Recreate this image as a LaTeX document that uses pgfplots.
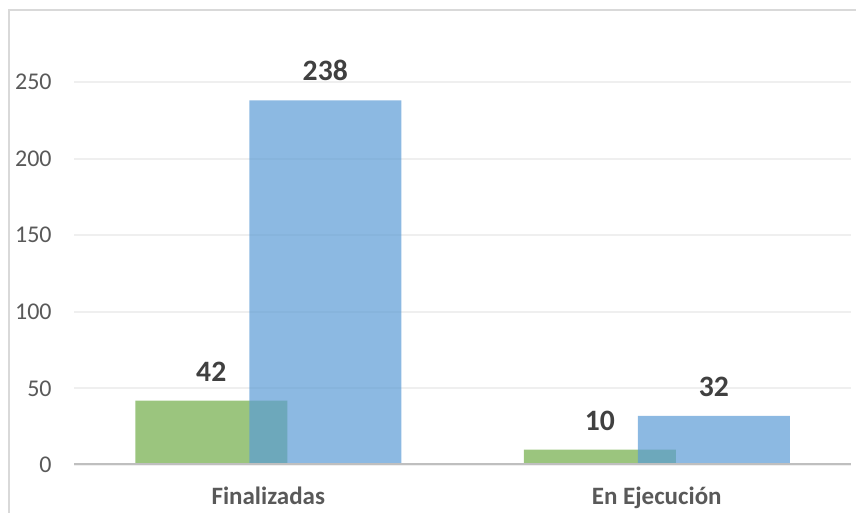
\documentclass[border=0pt]{standalone}
\usepackage{pgfplots}
\pgfplotsset{compat=1.18}
\usepackage{fontspec}
\setmainfont{Carlito}
\definecolor{barGreen}{HTML}{70AD47}
\definecolor{barBlue}{HTML}{5B9BD5}
\definecolor{tickGray}{HTML}{595959}
\definecolor{labelGray}{HTML}{404040}
\definecolor{gridGray}{HTML}{EFEFEF}
\definecolor{baseGray}{HTML}{BFBFBF}
\definecolor{frameGray}{HTML}{D9D9D9}
\begin{document}
\begin{tikzpicture}
\useasboundingbox (0,0) rectangle (428pt,256.5pt);
% chart frame (only top and left edges visible)
\draw[frameGray, line width=0.9pt] (4.5pt,0) -- (4.5pt,251.5pt) -- (428pt,251.5pt);
\begin{axis}[
    at={(37pt,24pt)}, anchor=south west,
    scale only axis,
    width=388.5pt, height=222.1pt,
    ybar, bar width=76pt,
    xmin=-0.5, xmax=1.5,
    ymin=0, ymax=290,
    xtick={0,1},
    xticklabels={Finalizadas, En Ejecución},
    ytick={0,50,100,150,200,250},
    major tick length=0pt,
    axis line style={draw=none},
    ymajorgrids,
    grid style={gridGray, line width=1pt},
    /pgf/number format/assume math mode=true,
    yticklabel style={font=\fontsize{12}{14}\selectfont, text=tickGray, inner sep=0pt, anchor=east, xshift=-11pt},
    xticklabel style={font=\fontsize{12.5}{15}\selectfont\bfseries, text=tickGray, inner sep=0pt, anchor=base, yshift=-20pt},
    nodes near coords,
    every node near coord/.append style={font=\fontsize{14.8}{17}\selectfont\bfseries, text=labelGray, text opacity=1, fill opacity=1, inner sep=0pt, anchor=south, yshift=9.5pt},
]
\addplot[draw=none, fill=barGreen, fill opacity=0.7, bar shift=-28.5pt] coordinates {(0,42) (1,10)};
\addplot[draw=none, fill=barBlue, fill opacity=0.7, bar shift=28.5pt] coordinates {(0,238) (1,32)};
\draw[baseGray, line width=1.5pt] (rel axis cs:0,0) -- (rel axis cs:1,0);
\end{axis}
\end{tikzpicture}
\end{document}
